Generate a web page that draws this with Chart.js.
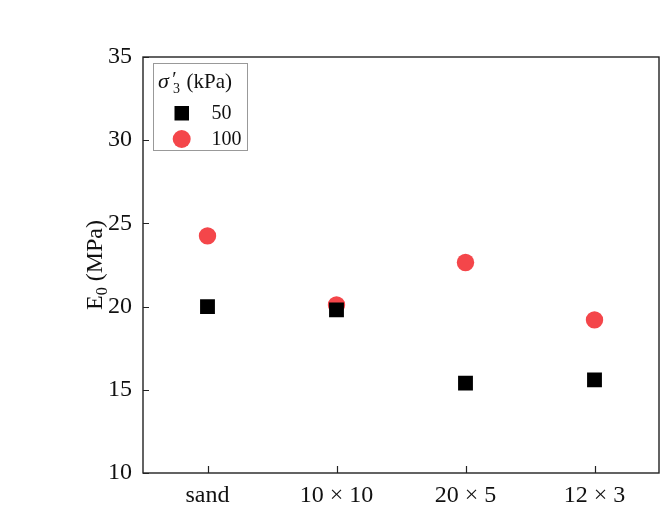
<!DOCTYPE html>
<html>
<head>
<meta charset="utf-8">
<script src="https://cdn.jsdelivr.net/npm/chart.js@4/dist/chart.umd.min.js"></script>
<style>
  html, body { margin: 0; padding: 0; background: #fff; }
  #wrap { width: 665px; height: 509px; position: relative; }
</style>
</head>
<body>
<div id="wrap"><canvas id="myChart" width="665" height="509"></canvas></div>
<script>
'use strict';

// data
const categories = ['sand', '10 × 10', '20 × 5', '12 × 3'];
const e0At50 = [20.0, 19.8, 15.4, 15.6];
const e0At100 = [24.25, 20.1, 22.65, 19.2];
const seriesLabels = ['50', '100'];
const yTicks = [10, 15, 20, 25, 30, 35];

const serif = "'Liberation Serif', 'Times New Roman', serif";
const red = '#f4464a';

// frame, inward ticks, y title and legend box
const framePlugin = {
  id: 'frame',
  afterDraw(chart) {
    const ctx = chart.ctx;
    const area = chart.chartArea;
    const xs = chart.scales.x, ys = chart.scales.y;
    ctx.save();
    ctx.strokeStyle = '#222';
    ctx.lineWidth = 1.4;
    ctx.strokeRect(area.left, area.top, area.right - area.left, area.bottom - area.top);

    ctx.lineWidth = 1.2;
    ctx.beginPath();
    yTicks.forEach(v => {
      const y = Math.round(ys.getPixelForValue(v)) + 0.5;
      ctx.moveTo(area.left, y);
      ctx.lineTo(area.left + 6, y);
    });
    categories.forEach((c, i) => {
      const x = Math.round(xs.getPixelForValue(i)) + 0.5;
      ctx.moveTo(x, area.bottom);
      ctx.lineTo(x, area.bottom - 7);
    });
    ctx.stroke();

    // y axis title with subscript
    ctx.fillStyle = '#111';
    ctx.translate(96, (area.top + area.bottom) / 2);
    ctx.rotate(-Math.PI / 2);
    ctx.textBaseline = 'middle';
    ctx.font = '24px ' + serif;
    const w1 = ctx.measureText('E').width;
    ctx.font = '16px ' + serif;
    const w2 = ctx.measureText('0').width;
    ctx.font = '24px ' + serif;
    const w3 = ctx.measureText(' (MPa)').width;
    let x0 = -(w1 + w2 + w3) / 2;
    ctx.fillText('E', x0, 0);
    ctx.font = '16px ' + serif;
    ctx.fillText('0', x0 + w1, 7);
    ctx.font = '24px ' + serif;
    ctx.fillText(' (MPa)', x0 + w1 + w2, 0);
    ctx.restore();

    // legend
    ctx.save();
    ctx.strokeStyle = '#999';
    ctx.lineWidth = 1;
    ctx.strokeRect(153.5, 63.5, 94, 87);
    ctx.fillStyle = '#111';
    ctx.textBaseline = 'alphabetic';
    ctx.font = 'italic 22px ' + serif;
    ctx.fillText('σ', 158, 88);
    ctx.font = 'italic 20px ' + serif;
    ctx.fillText('′', 171, 86);
    ctx.font = '14px ' + serif;
    ctx.fillText('3', 173, 93);
    ctx.font = '21px ' + serif;
    ctx.fillText('(kPa)', 186.5, 88);

    chart.data.datasets.forEach((ds, i) => {
      const cy = 113 + i * 26;
      ctx.fillStyle = ds.backgroundColor;
      if (ds.pointStyle === 'rect') {
        ctx.fillRect(174.5, cy - 7, 14.5, 14.5);
      } else {
        ctx.beginPath();
        ctx.arc(181.7, cy, 9, 0, Math.PI * 2);
        ctx.fill();
      }
      ctx.fillStyle = '#111';
      ctx.font = '20px ' + serif;
      ctx.textBaseline = 'middle';
      ctx.fillText(ds.label, 211.5, cy + 1);
    });
    ctx.restore();
  }
};

const ctx = document.querySelector('#myChart').getContext('2d');
const myChart = new Chart(ctx, {
  type: 'line',
  data: {
    labels: categories,
    datasets: [{
      label: seriesLabels[0],
      data: e0At50,
      showLine: false,
      pointStyle: 'rect',
      pointRadius: 10.5,
      backgroundColor: '#000',
      borderColor: '#000',
      borderWidth: 0
    }, {
      label: seriesLabels[1],
      data: e0At100,
      showLine: false,
      pointStyle: 'circle',
      pointRadius: 8.7,
      backgroundColor: red,
      borderColor: red,
      borderWidth: 0
    }]
  },
  options: {
    responsive: false,
    animation: false,
    layout: { autoPadding: false, padding: { top: 57, right: 6, left: 0, bottom: 0 } },
    scales: {
      x: {
        type: 'category',
        offset: true,
        grid: { display: false, offset: false, drawTicks: false },
        border: { display: false },
        ticks: { color: '#111', font: { family: serif, size: 24 }, padding: 8, maxRotation: 0 },
        afterFit(scale) {
          scale.height = 36;
          scale.paddingLeft = 0;
          scale.paddingRight = 0;
        }
      },
      y: {
        min: 10,
        max: 35,
        grid: { display: false, drawTicks: false },
        border: { display: false },
        afterBuildTicks(scale) { scale.ticks = yTicks.map(v => ({ value: v })); },
        ticks: { color: '#111', font: { family: serif, size: 24 }, padding: 11 },
        afterFit(scale) { scale.width = 143; }
      }
    },
    plugins: {
      legend: { display: false },
      tooltip: { enabled: false }
    }
  },
  plugins: [framePlugin]
});
</script>
</body>
</html>
